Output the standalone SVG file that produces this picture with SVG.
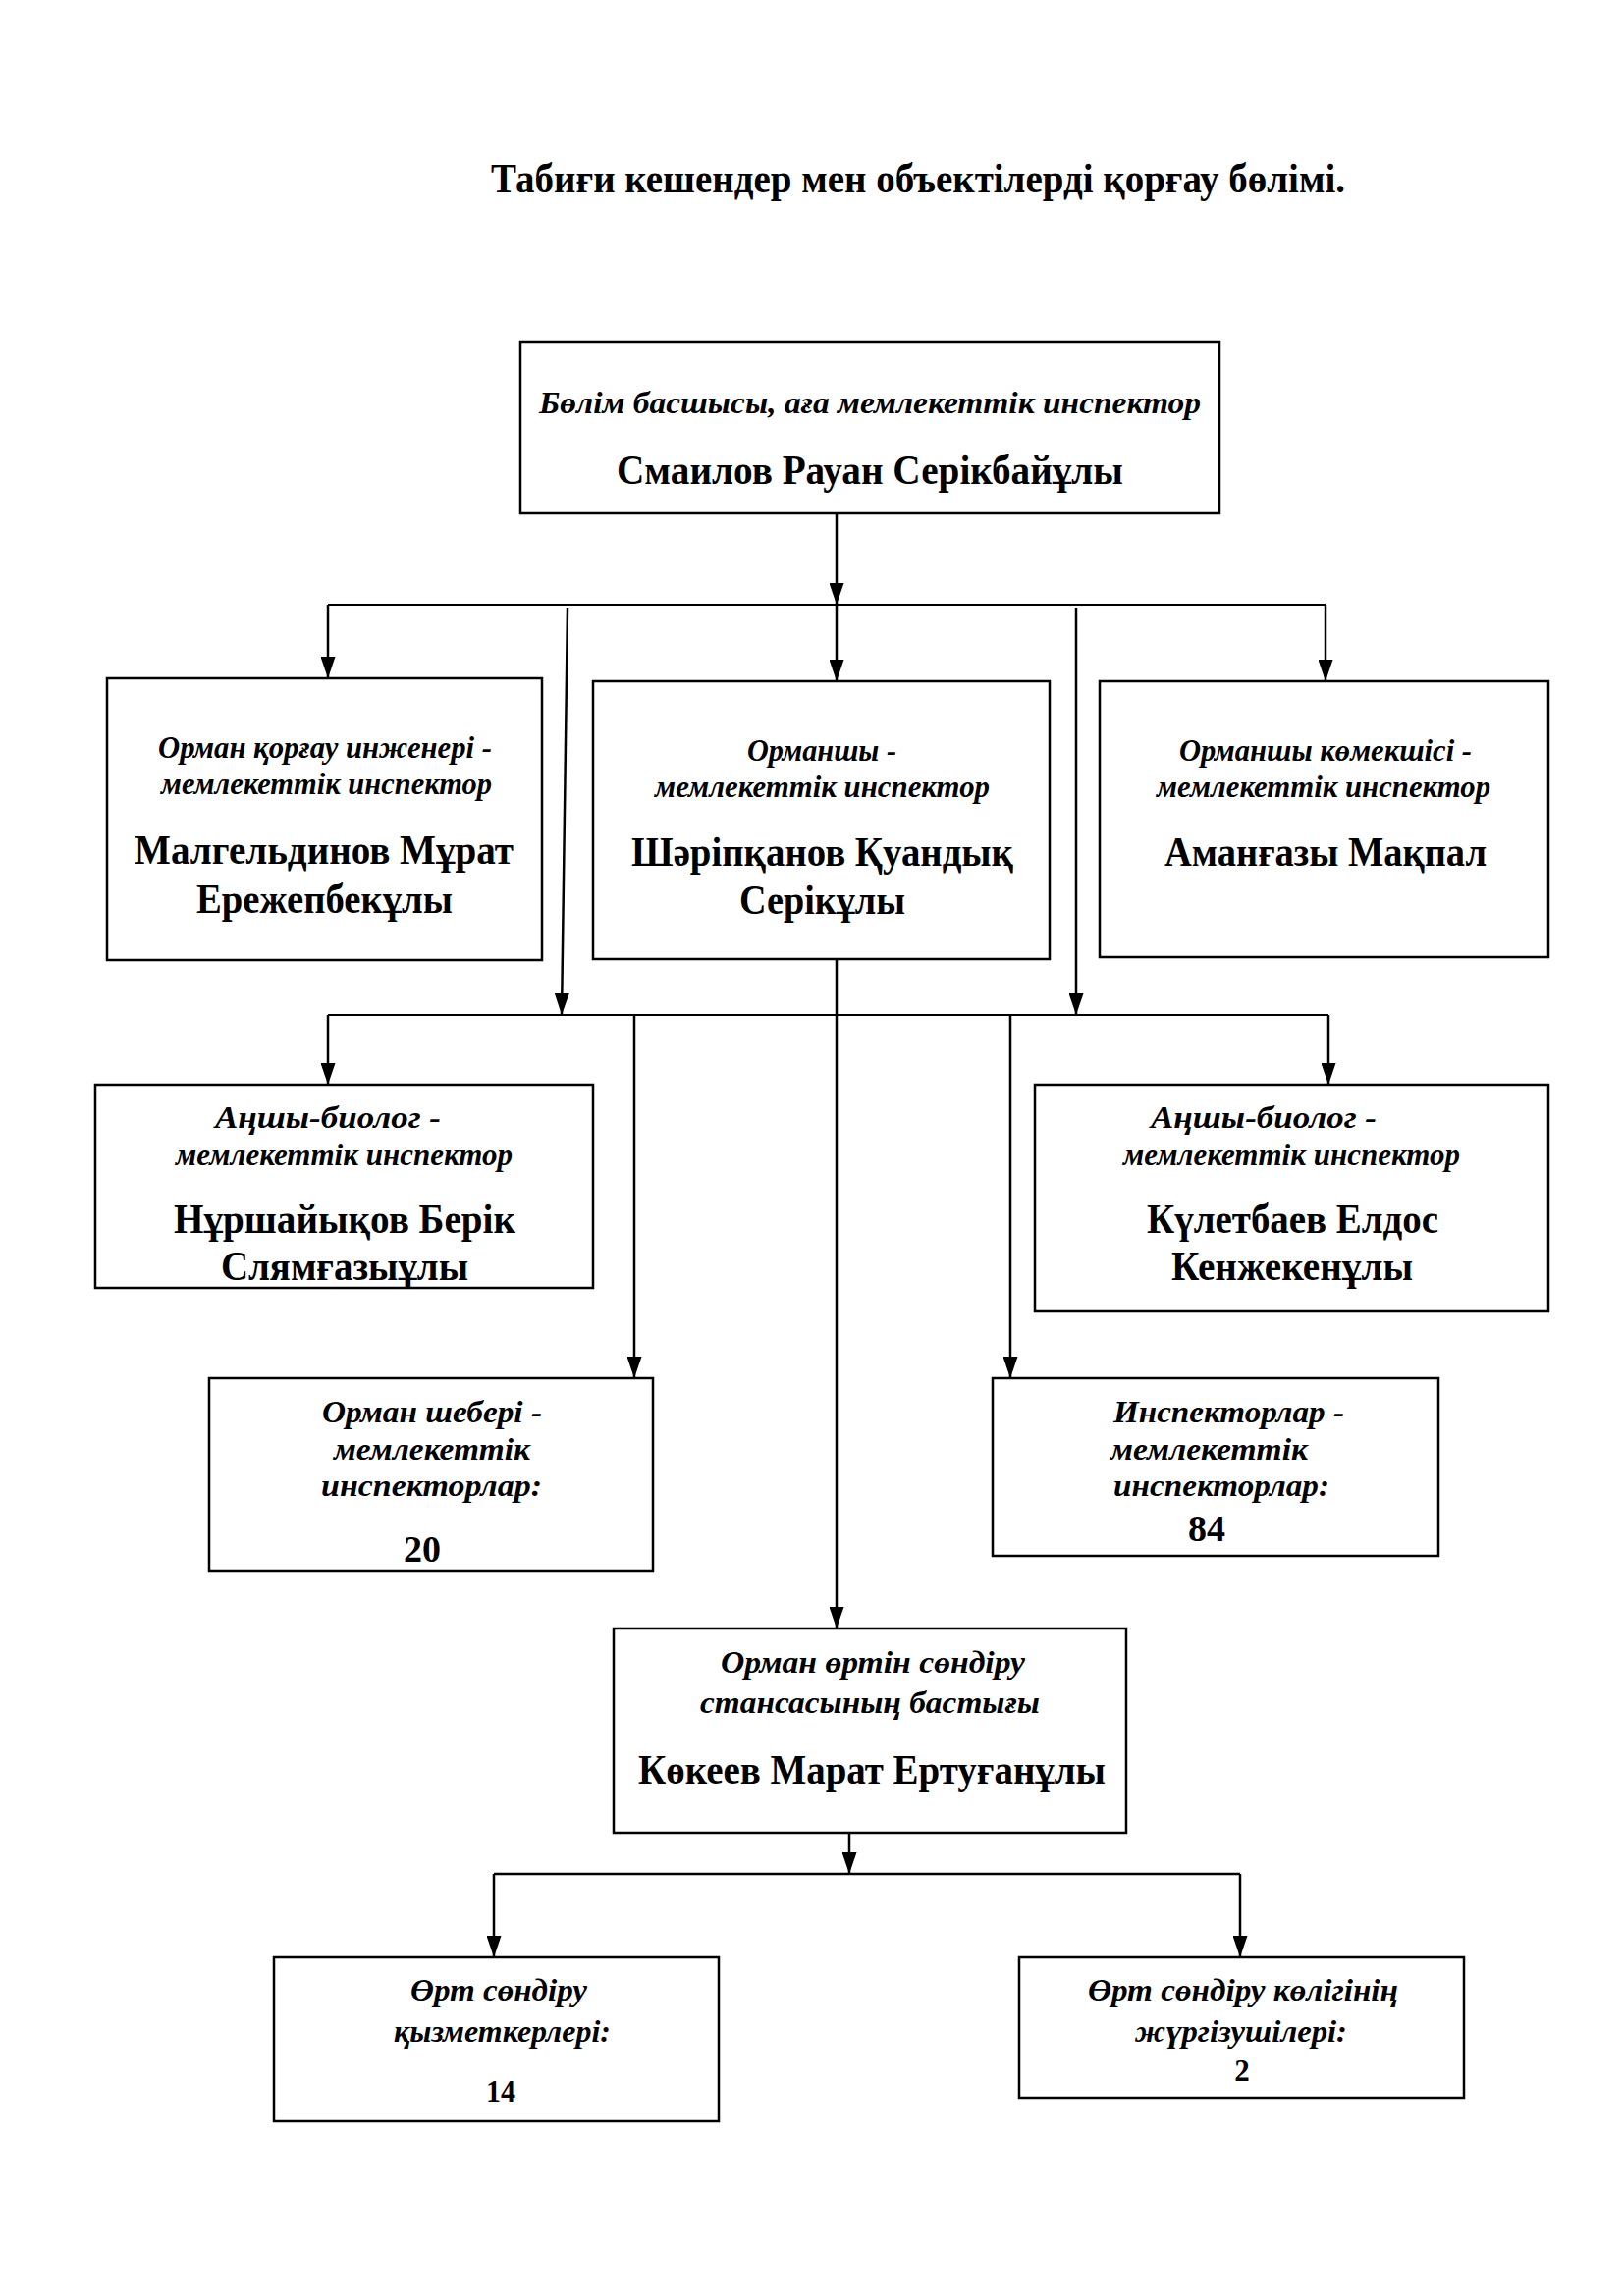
<svg xmlns="http://www.w3.org/2000/svg" width="1654" height="2339" viewBox="0 0 1654 2339">
<style>
text{font-family:"Liberation Serif","Times New Roman",serif;fill:#000;font-weight:bold}
.t{font-size:42px}
.r{font-size:32px;font-style:italic}
.n{font-size:42px}
.num{font-size:38px}
.sn{font-size:31px}
.box{fill:#fff;stroke:#000;stroke-width:2.5}
.c{stroke:#000;stroke-width:2.5;fill:none}
.h{stroke:#000;stroke-width:2;fill:none}
</style>
<defs>
<marker id="arr" viewBox="0 0 22 15" refX="22" refY="7.5" markerWidth="22" markerHeight="15" orient="auto" markerUnits="userSpaceOnUse">
<path d="M0,0 L22,7.5 L0,15 z" fill="#000"/>
</marker>
</defs>
<rect width="1654" height="2339" fill="#fff"/>
<text class="t" x="500" y="196" textLength="870" lengthAdjust="spacingAndGlyphs">Табиғи кешендер мен объектілерді қорғау бөлімі.</text>

<g id="connectors">
<line class="c" x1="852" y1="523" x2="852" y2="616" marker-end="url(#arr)"/>
<line class="h" x1="334" y1="616" x2="1350" y2="616"/>
<line class="c" x1="334" y1="616" x2="334" y2="691" marker-end="url(#arr)"/>
<line class="c" x1="852" y1="616" x2="852" y2="694" marker-end="url(#arr)"/>
<line class="c" x1="1350" y1="616" x2="1350" y2="694" marker-end="url(#arr)"/>
<line class="c" x1="578" y1="619" x2="572" y2="1034" marker-end="url(#arr)"/>
<line class="c" x1="1096" y1="619" x2="1096" y2="1034" marker-end="url(#arr)"/>
<line class="h" x1="334" y1="1034" x2="1353" y2="1034"/>
<line class="c" x1="334" y1="1034" x2="334" y2="1105" marker-end="url(#arr)"/>
<line class="c" x1="1353" y1="1034" x2="1353" y2="1105" marker-end="url(#arr)"/>
<line class="c" x1="646" y1="1034" x2="646" y2="1404" marker-end="url(#arr)"/>
<line class="c" x1="1029" y1="1034" x2="1029" y2="1404" marker-end="url(#arr)"/>
<line class="c" x1="852" y1="977" x2="852" y2="1659" marker-end="url(#arr)"/>
<line class="c" x1="865" y1="1867" x2="865" y2="1909" marker-end="url(#arr)"/>
<line class="c" x1="503" y1="1909" x2="1263" y2="1909"/>
<line class="c" x1="503" y1="1909" x2="503" y2="1994" marker-end="url(#arr)"/>
<line class="c" x1="1263" y1="1909" x2="1263" y2="1994" marker-end="url(#arr)"/>
</g>

<g id="head">
<rect class="box" x="530" y="348" width="712" height="175"/>
<text class="r" x="549" y="421" textLength="674" lengthAdjust="spacingAndGlyphs">Бөлім басшысы, аға мемлекеттік инспектор</text>
<text class="n" x="628" y="493" textLength="516" lengthAdjust="spacingAndGlyphs">Смаилов Рауан Серікбайұлы</text>
</g>

<g id="engineer">
<rect class="box" x="109" y="691" width="443" height="287"/>
<text class="r" x="161" y="772" textLength="340" lengthAdjust="spacingAndGlyphs">Орман қорғау инженері -</text>
<text class="r" x="164" y="809" textLength="337" lengthAdjust="spacingAndGlyphs">мемлекеттік инспектор</text>
<text class="n" x="137" y="880" textLength="386" lengthAdjust="spacingAndGlyphs">Малгельдинов Мұрат</text>
<text class="n" x="200" y="930" textLength="261" lengthAdjust="spacingAndGlyphs">Ережепбекұлы</text>
</g>

<g id="forester">
<rect class="box" x="604" y="694" width="465" height="283"/>
<text class="r" x="761" y="775" textLength="152" lengthAdjust="spacingAndGlyphs">Орманшы -</text>
<text class="r" x="667" y="812" textLength="341" lengthAdjust="spacingAndGlyphs">мемлекеттік инспектор</text>
<text class="n" x="643" y="882" textLength="389" lengthAdjust="spacingAndGlyphs">Шәріпқанов Қуандық</text>
<text class="n" x="753" y="931" textLength="169" lengthAdjust="spacingAndGlyphs">Серікұлы</text>
</g>

<g id="assistant">
<rect class="box" x="1120" y="694" width="457" height="281"/>
<text class="r" x="1201" y="775" textLength="298" lengthAdjust="spacingAndGlyphs">Орманшы көмекшісі -</text>
<text class="r" x="1178" y="812" textLength="340" lengthAdjust="spacingAndGlyphs">мемлекеттік инспектор</text>
<text class="n" x="1186" y="882" textLength="328" lengthAdjust="spacingAndGlyphs">Аманғазы Мақпал</text>
</g>

<g id="hunter1">
<rect class="box" x="97" y="1105" width="507" height="207"/>
<text class="r" x="219" y="1149" textLength="230" lengthAdjust="spacingAndGlyphs">Аңшы-биолог -</text>
<text class="r" x="179" y="1187" textLength="343" lengthAdjust="spacingAndGlyphs">мемлекеттік инспектор</text>
<text class="n" x="177" y="1256" textLength="348" lengthAdjust="spacingAndGlyphs">Нұршайықов Берік</text>
<text class="n" x="225" y="1304" textLength="252" lengthAdjust="spacingAndGlyphs">Слямғазыұлы</text>
</g>

<g id="hunter2">
<rect class="box" x="1054" y="1105" width="523" height="231"/>
<text class="r" x="1172" y="1149" textLength="230" lengthAdjust="spacingAndGlyphs">Аңшы-биолог -</text>
<text class="r" x="1144" y="1187" textLength="343" lengthAdjust="spacingAndGlyphs">мемлекеттік инспектор</text>
<text class="n" x="1168" y="1256" textLength="297" lengthAdjust="spacingAndGlyphs">Күлетбаев Елдос</text>
<text class="n" x="1193" y="1304" textLength="246" lengthAdjust="spacingAndGlyphs">Кенжекенұлы</text>
</g>

<g id="masters">
<rect class="box" x="213" y="1404" width="452" height="196"/>
<text class="r" x="328" y="1449" textLength="224" lengthAdjust="spacingAndGlyphs">Орман шебері -</text>
<text class="r" x="340" y="1487" textLength="200" lengthAdjust="spacingAndGlyphs">мемлекеттік</text>
<text class="r" x="327" y="1524" textLength="225" lengthAdjust="spacingAndGlyphs">инспекторлар:</text>
<text class="num" x="411" y="1591" textLength="38" lengthAdjust="spacingAndGlyphs">20</text>
</g>

<g id="inspectors">
<rect class="box" x="1011" y="1404" width="454" height="181"/>
<text class="r" x="1134" y="1449" textLength="235" lengthAdjust="spacingAndGlyphs">Инспекторлар -</text>
<text class="r" x="1131" y="1487" textLength="201" lengthAdjust="spacingAndGlyphs">мемлекеттік</text>
<text class="r" x="1134" y="1524" textLength="220" lengthAdjust="spacingAndGlyphs">инспекторлар:</text>
<text class="num" x="1210" y="1570" textLength="38" lengthAdjust="spacingAndGlyphs">84</text>
</g>

<g id="station">
<rect class="box" x="625" y="1659" width="522" height="208"/>
<text class="r" x="734" y="1704" textLength="310" lengthAdjust="spacingAndGlyphs">Орман өртін сөндіру</text>
<text class="r" x="713" y="1745" textLength="346" lengthAdjust="spacingAndGlyphs">стансасының бастығы</text>
<text class="n" x="650" y="1817" textLength="476" lengthAdjust="spacingAndGlyphs">Көкеев Марат Ертуғанұлы</text>
</g>

<g id="firemen">
<rect class="box" x="279" y="1994" width="453" height="167"/>
<text class="r" x="418" y="2038" textLength="180" lengthAdjust="spacingAndGlyphs">Өрт сөндіру</text>
<text class="r" x="401" y="2080" textLength="221" lengthAdjust="spacingAndGlyphs">қызметкерлері:</text>
<text class="sn" x="495" y="2141" textLength="30" lengthAdjust="spacingAndGlyphs">14</text>
</g>

<g id="drivers">
<rect class="box" x="1038" y="1994" width="453" height="143"/>
<text class="r" x="1108" y="2038" textLength="316" lengthAdjust="spacingAndGlyphs">Өрт сөндіру көлігінің</text>
<text class="r" x="1156" y="2080" textLength="216" lengthAdjust="spacingAndGlyphs">жүргізушілері:</text>
<text class="sn" x="1265" y="2120" text-anchor="middle">2</text>
</g>
</svg>
